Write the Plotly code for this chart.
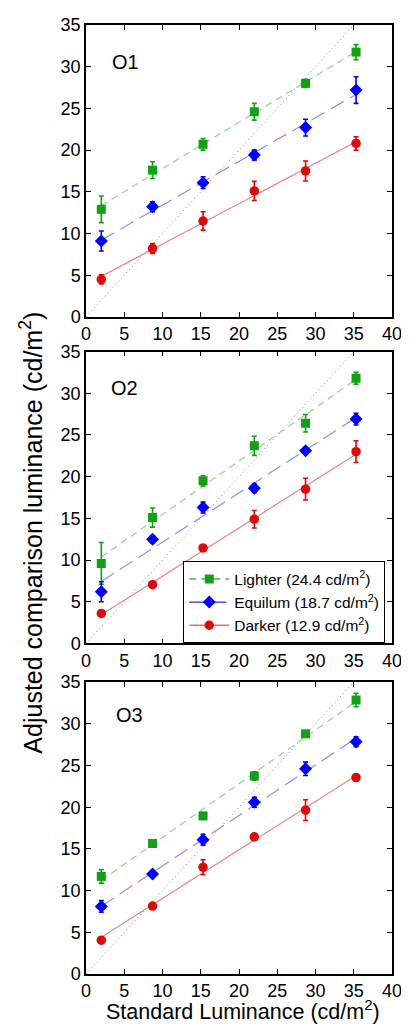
import numpy as np
import plotly.graph_objects as go

# ---------------- data ----------------
x_std = [2.0, 8.7, 15.3, 22.0, 28.7, 35.3]
x_ticks = [0, 5, 10, 15, 20, 25, 30, 35, 40]
y_ticks = [0, 5, 10, 15, 20, 25, 30, 35]
x_range = [0, 40]
y_range = [0, 35]

panel_names = ["O1", "O2", "O3"]

o1_lighter = [12.9, 17.6, 20.7, 24.6, 28.0, 31.75]
o1_lighter_err = [1.6, 1.0, 0.7, 1.0, 0.5, 0.9]
o1_equilum = [9.1, 13.2, 16.1, 19.4, 22.7, 27.2]
o1_equilum_err = [1.2, 0.6, 0.7, 0.6, 1.0, 1.6]
o1_darker = [4.5, 8.2, 11.5, 15.1, 17.5, 20.8]
o1_darker_err = [0.55, 0.6, 1.1, 1.15, 1.2, 0.8]

o2_lighter = [9.6, 15.1, 19.5, 23.7, 26.4, 31.8]
o2_lighter_err = [2.5, 1.15, 0.6, 1.15, 1.05, 0.7]
o2_equilum = [6.2, 12.5, 16.3, 18.6, 23.1, 26.9]
o2_equilum_err = [1.2, 0.4, 0.65, 0.5, 0.35, 0.7]
o2_darker = [3.6, 7.05, 11.45, 14.9, 18.5, 23.0]
o2_darker_err = [0.3, 0.3, 0.3, 1.05, 1.3, 1.3]

o3_lighter = [11.7, 15.65, 18.95, 23.75, 28.8, 32.85]
o3_lighter_err = [0.8, 0.3, 0.4, 0.5, 0.3, 0.8]
o3_equilum = [8.1, 12.0, 16.1, 20.6, 24.6, 27.85]
o3_equilum_err = [0.7, 0.4, 0.65, 0.6, 0.8, 0.6]
o3_darker = [4.05, 8.15, 12.8, 16.45, 19.65, 23.55]
o3_darker_err = [0.4, 0.3, 0.9, 0.3, 1.25, 0.35]

series_labels = ["Lighter (24.4 cd/m<sup>2</sup>)",
                 "Equilum (18.7 cd/m<sup>2</sup>)",
                 "Darker (12.9 cd/m<sup>2</sup>)"]

panels = [
    [(o1_lighter, o1_lighter_err), (o1_equilum, o1_equilum_err), (o1_darker, o1_darker_err)],
    [(o2_lighter, o2_lighter_err), (o2_equilum, o2_equilum_err), (o2_darker, o2_darker_err)],
    [(o3_lighter, o3_lighter_err), (o3_equilum, o3_equilum_err), (o3_darker, o3_darker_err)],
]

# ---------------- styles ----------------
marker_colors = ["rgb(20,160,20)", "rgb(0,0,255)", "rgb(220,10,10)"]
fit_colors = ["rgb(140,215,140)", "rgb(140,140,255)", "rgb(240,130,130)"]
legend_line_colors = ["rgb(60,190,60)", "rgb(40,40,255)", "rgb(235,110,110)"]
symbols = ["square", "diamond", "circle"]
marker_sizes = [9, 10, 9.5]
dashes = ["7px,5px", "15px,7px", "solid"]

FONT = "Liberation Sans, Arial, Helvetica, sans-serif"

domains = [[0.6924, 1.0], [0.3483, 0.6559], [0.0, 0.3076]]

fig = go.Figure()

for p, series in enumerate(panels):
    xa = "x" if p == 0 else f"x{p+1}"
    ya = "y" if p == 0 else f"y{p+1}"
    # identity line
    fig.add_trace(go.Scatter(
        x=y_range, y=y_range, mode="lines", xaxis=xa, yaxis=ya,
        line=dict(color="rgb(130,130,130)", width=1, dash="1px,3px"),
        showlegend=False, hoverinfo="skip"))
    for s, (vals, errs) in enumerate(series):
        slope, icpt = np.polyfit(x_std, vals, 1)
        fx = np.array([min(x_std), max(x_std)])
        fig.add_trace(go.Scatter(
            x=fx, y=slope * fx + icpt, mode="lines", xaxis=xa, yaxis=ya,
            line=dict(color=fit_colors[s], width=1.2, dash=dashes[s]),
            showlegend=False, hoverinfo="skip"))
    for s, (vals, errs) in enumerate(series):
        fig.add_trace(go.Scatter(
            x=x_std, y=vals, mode="markers", xaxis=xa, yaxis=ya,
            marker=dict(symbol=symbols[s], size=marker_sizes[s], color=marker_colors[s],
                        line=dict(width=0)),
            error_y=dict(type="data", array=errs, visible=True,
                         color=marker_colors[s], thickness=1.6, width=2.5),
            showlegend=False))

# legend entries (line + marker samples)
for s in range(3):
    fig.add_trace(go.Scatter(
        x=[None], y=[None], mode="lines+markers", xaxis="x2", yaxis="y2",
        name=series_labels[s],
        line=dict(color=legend_line_colors[s], width=1.4, dash=dashes[s]),
        marker=dict(symbol=symbols[s], size=marker_sizes[s], color=marker_colors[s]),
        showlegend=True))

axis_common = dict(
    showgrid=False, zeroline=False, showline=True, linecolor="black",
    linewidth=1.5, mirror="ticks", ticks="inside", ticklen=5, tickwidth=1.2,
    tickcolor="black", tickfont=dict(family=FONT, size=18, color="black"),
)

# the page body has an 8px default margin: compensate in size and margins
layout = dict(
    width=401, height=1018,
    margin=dict(l=78, r=11, t=7, b=52),
    paper_bgcolor="white", plot_bgcolor="white",
    font=dict(family=FONT, color="black"),
    showlegend=True,
    legend=dict(x=0.978, y=0.4348, xanchor="right", yanchor="top",
                bgcolor="white", bordercolor="black", borderwidth=1,
                font=dict(family=FONT, size=15.5, color="black"),
                tracegroupgap=0, itemwidth=40),
)

for p in range(3):
    xk = "xaxis" if p == 0 else f"xaxis{p+1}"
    yk = "yaxis" if p == 0 else f"yaxis{p+1}"
    ya = "y" if p == 0 else f"y{p+1}"
    xa = "x" if p == 0 else f"x{p+1}"
    xd = dict(axis_common)
    xd.update(range=x_range, tickvals=x_ticks, anchor=ya, domain=[0, 1])
    yd = dict(axis_common)
    yd.update(range=y_range, tickvals=y_ticks, anchor=xa, domain=domains[p])
    layout[xk] = xd
    layout[yk] = yd

label_pos = [(3.1, 30.6), (2.95, 30.6), (3.7, 31.0)]
annotations = []
for p in range(3):
    xa = "x" if p == 0 else f"x{p+1}"
    ya = "y" if p == 0 else f"y{p+1}"
    annotations.append(dict(
        x=label_pos[p][0], y=label_pos[p][1], xref=xa, yref=ya,
        text=panel_names[p], showarrow=False, xanchor="left", yanchor="middle",
        font=dict(family=FONT, size=20, color="black")))

annotations.append(dict(
    x=-0.18, y=0.465, xref="paper", yref="paper", textangle=-90,
    text="Adjusted comparison luminance (cd/m<sup>2</sup>)", showarrow=False,
    xanchor="center", yanchor="middle",
    font=dict(family=FONT, size=25, color="black")))
annotations.append(dict(
    x=0.513, y=-0.0542, xref="paper", yref="paper",
    text="Standard Luminance (cd/m<sup>2</sup>)", showarrow=False,
    xanchor="center", yanchor="bottom", borderpad=0,
    font=dict(family=FONT, size=21.5, color="black")))
layout["annotations"] = annotations

fig.update_layout(**layout)
fig.write_html("out.html")
